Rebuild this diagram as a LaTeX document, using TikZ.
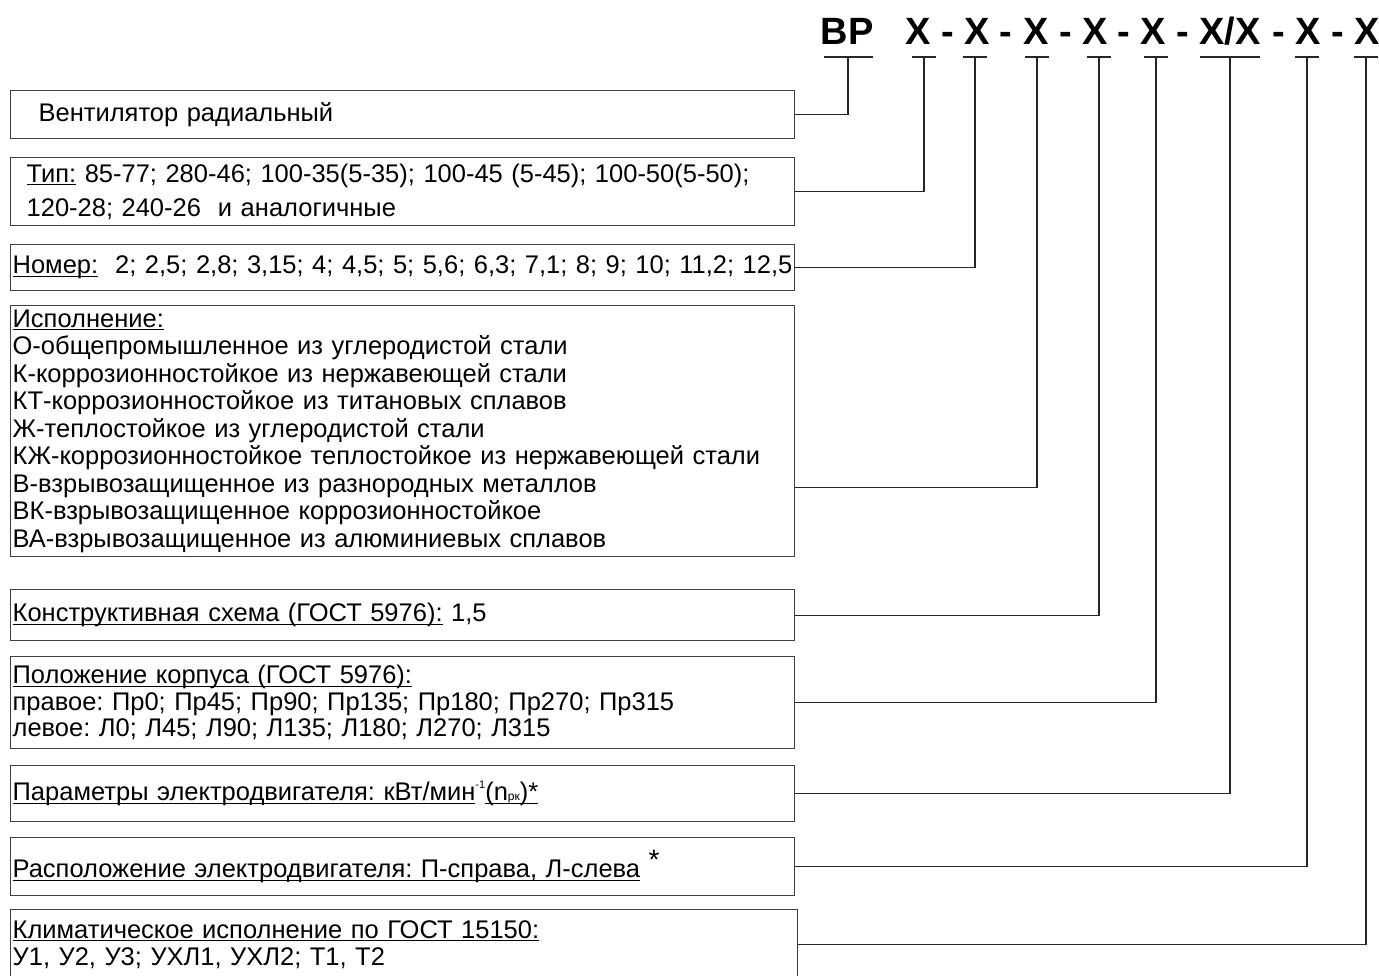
\documentclass[tikz,border=0pt]{standalone}
\usepackage{fontspec}
\setmainfont{Liberation Sans}
\frenchspacing
\newcommand{\undl}[1]{\setbox0\hbox{#1}\rlap{\rule[-3pt]{\wd0}{1.1pt}}\box0\relax}
\usetikzlibrary{positioning}

\begin{document}
\begin{tikzpicture}[x=1pt,y=-1pt,
    descr/.style={draw=black!75,line width=1.3pt,anchor=north west,
                  inner xsep=2pt,inner ysep=0pt,text width=780pt,align=left,
                  font=\fontsize{25.5}{27.5}\selectfont},
    code/.style={anchor=base,inner sep=0pt,font=\fontsize{38}{38}\selectfont\bfseries},
    link/.style={draw=black!85,line width=1.2pt}]
  \useasboundingbox (0,0) rectangle (1379,976);

  % code line
  \node[code] (c0) at (847,45)  {ВР};
  \node[code] (c1) at (918,45)  {Х};
  \node[code] (c2) at (977,45)  {Х};
  \node[code] (c3) at (1036,45) {Х};
  \node[code] (c4) at (1095,45) {Х};
  \node[code] (c5) at (1153,45) {Х};
  \node[code] (c6) at (1230,45) {Х/Х};
  \node[code] (c7) at (1308,45) {Х};
  \node[code] (c8) at (1367,45) {Х};
  \foreach \x in {948,1006,1065.5,1123.5,1183,1279,1337.5}
    \node[code] at (\x,45) {-};

  \foreach \x/\w/\n in {848/24.5/0,924/12/1,975/12/2,1037/12/3,1099/12/4,
                        1156/12/5,1230/30/6,1307/12/7,1366/12/8}{
    \coordinate (t\n) at (\x,57);
    \draw[link] ([xshift=-\w pt]t\n) -- ([xshift=\w pt]t\n);
  }

  % boxes
  \node[descr,minimum height=48pt,text width=728pt,inner xsep=28pt] (vent) at (10,90)
    {Вентилятор радиальный};
  \node[descr,minimum height=68pt,text width=752pt,inner xsep=16pt,
        font=\fontsize{25.5}{34}\selectfont] (tip) at (10,157)
    {\undl{Тип:} 85-77; 280-46; 100-35(5-35); 100-45 (5-45); 100-50(5-50);\\
     120-28; 240-26\ \ и аналогичные};
  \node[descr,minimum height=46pt] (nomer) at (10,244)
    {\undl{Номер:}\ \ 2; 2,5; 2,8; 3,15; 4; 4,5; 5; 5,6; 6,3; 7,1; 8; 9; 10; 11,2; 12,5};
  \node[descr,minimum height=251pt] (isp) at (10,305)
    {\undl{Исполнение:}\\
     О-общепромышленное из углеродистой стали\\
     К-коррозионностойкое из нержавеющей стали\\
     КТ-коррозионностойкое из титановых сплавов\\
     Ж-теплостойкое из углеродистой стали\\
     КЖ-коррозионностойкое теплостойкое из нержавеющей стали\\
     В-взрывозащищенное из разнородных металлов\\
     ВК-взрывозащищенное коррозионностойкое\\
     ВА-взрывозащищенное из алюминиевых сплавов};
  \node[descr,minimum height=51pt] (konstr) at (10,589)
    {\undl{Конструктивная схема (ГОСТ 5976):} 1,5};
  \node[descr,minimum height=92pt,font=\fontsize{25.5}{26.5}\selectfont] (polozh) at (10,656)
    {\undl{Положение корпуса (ГОСТ 5976):}\\
     правое: Пр0; Пр45; Пр90; Пр135; Пр180; Пр270; Пр315\\
     левое: Л0; Л45; Л90; Л135; Л180; Л270; Л315};
  \node[descr,minimum height=56pt] (param) at (10,765)
    {\undl{Параметры электродвигателя: кВт/мин}{\fontsize{11}{11}\selectfont\raisebox{12pt}{-1}}\undl{(n{\fontsize{12}{12}\selectfont рк})*}};
  \node[descr,minimum height=58pt] (raspol) at (10,837)
    {\undl{Расположение электродвигателя: П-справа, Л-слева}\ {\fontsize{28}{28}\selectfont\raisebox{8pt}{*}}};
  \node[descr,minimum height=70pt,text width=783pt,font=\fontsize{25.5}{27}\selectfont] (klimat) at (10,909)
    {\undl{Климатическое исполнение по ГОСТ 15150:}\\
     У1, У2, У3; УХЛ1, УХЛ2; Т1, Т2};

  % connectors
  \draw[link] (vent.east) -| (t0);
  \draw[link] (tip.east) -| (t1);
  \draw[link] (nomer.east) -| (t2);
  \draw[link] ([yshift=-56pt]isp.east) -| (t3);
  \draw[link] (konstr.east) -| (t4);
  \draw[link] (polozh.east) -| (t5);
  \draw[link] (param.east) -| (t6);
  \draw[link] (raspol.east) -| (t7);
  \draw[link] (klimat.east) -| (t8);
\end{tikzpicture}
\end{document}
